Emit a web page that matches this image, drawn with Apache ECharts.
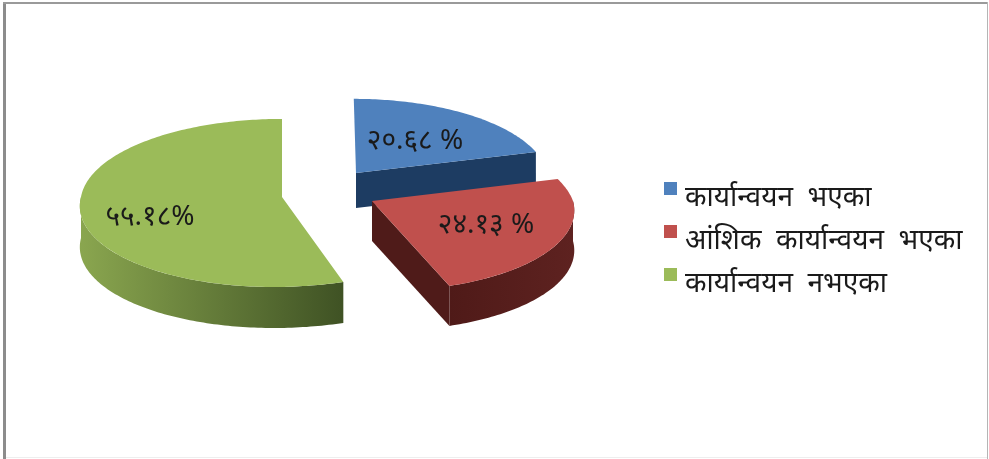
<!DOCTYPE html>
<html><head><meta charset="utf-8">
<style>html,body{margin:0;padding:0;background:#fff}#c{width:989px;height:459px}</style>
<script src="https://cdn.jsdelivr.net/npm/echarts@6/dist/echarts.min.js"></script>
</head><body><div id="c"></div>
<script>
const categories = ['कार्यान्वयन भएका', 'आंशिक कार्यान्वयन भएका', 'कार्यान्वयन नभएका'];
const values = [20.68, 24.13, 55.18];
const valueLabels = ['२०.६८ %', '२४.१३ %', '५५.१८%'];
const topColors = ['#4f81bd', '#c0504d', '#9bbb59'];
const FONT = '"Noto Sans","DejaVu Sans",sans-serif';

// 3D projection of the exploded pie
const layout = [
  {cx: 356, cy: 173, scale: 0.95, depth: 35, lx: 415, ly: 141, skewBack: 0.03, skewFront: 0,
   side: ['#1d3c62', '#1d3c62'], plane: '#1d3c62'},
  {cx: 372, cy: 201, scale: 1.0, depth: 40, lx: 486, ly: 225, skewBack: 0.2, skewFront: 0.1,
   side: ['#4f1a18', '#5e2220'], plane: '#4f1b19'},
  {cx: 282, cy: 197, scale: 1.0, depth: 41, lx: 150, ly: 217, skewBack: 0, skewFront: -0.09,
   side: ['#8aa64f', '#3f5224'], plane: '#3f5224'}
];
const RX = 201, RY = 83.6, K = 0.071;
const total = values.reduce((a, b) => a + b, 0);
function proj(l, deg, dy) {
  const a = deg * Math.PI / 180, t = Math.cos(a), s = l.scale / (1 + K * t);
  const oy = -RY * t * s;
  const skew = oy > 0 ? l.skewFront : l.skewBack;
  return [l.cx + RX * Math.sin(a) * s + skew * oy, l.cy + oy + (dy || 0)];
}
function arc(l, from, to, dy) {
  const pts = [];
  const n = Math.max(2, Math.ceil(Math.abs(to - from)));
  for (let i = 0; i <= n; i++) pts.push(proj(l, from + (to - from) * i / n, dy));
  return pts;
}
function renderSlice(idx) {
  return function (params, api) {
    const v = api.value(0);
    let before = 0;
    for (let i = 0; i < idx; i++) before += values[i];
    const a0 = before / total * 360, a1 = a0 + v / total * 360;
    const l = layout[idx], kids = [], apex = [l.cx, l.cy];
    const apexB = [l.cx, l.cy + l.depth];
    if (a1 < 180) {
      const e = proj(l, a1), eb = proj(l, a1, l.depth);
      kids.push({type: 'polygon', shape: {points: [apex, e, eb, apexB]},
        style: {fill: l.plane}});
    }
    const r0 = Math.max(a0, 90), r1 = Math.min(a1, 270);
    if (r1 > r0) {
      const pts = arc(l, r0, r1, 0).concat(arc(l, r1, r0, l.depth));
      kids.push({type: 'polygon', shape: {points: pts}, style: {
        fill: new echarts.graphic.LinearGradient(0, 0, 1, 0, [
          {offset: 0, color: l.side[0]}, {offset: 1, color: l.side[1]}])}});
    }
    kids.push({type: 'polygon', shape: {points: [apex].concat(arc(l, a0, a1, 0))},
      style: {fill: topColors[idx]}});
    kids.push({type: 'text', x: l.lx, y: l.ly, style: {
      text: valueLabels[idx], font: '28px ' + FONT, fill: '#1a1a1a',
      align: 'center', verticalAlign: 'middle'}});
    return {type: 'group', children: kids};
  };
}
const chart = echarts.init(document.getElementById('c'), null, {renderer: 'canvas'});
chart.setOption({
  animation: false,
  backgroundColor: '#fff',
  legend: {
    orient: 'vertical', left: 659, top: 177, itemWidth: 13, itemHeight: 13,
    itemGap: 12.5, icon: 'rect', data: categories,
    formatter: n => '{a|' + n.replace(/ /g, '  ') + '}',
    textStyle: {
      fontFamily: FONT, fontSize: 28, color: '#1a1a1a',
      rich: {a: {fontFamily: FONT, fontSize: 28, color: '#1a1a1a', padding: [20, 0, 0, 3]}}
    }
  },
  series: categories.map((name, i) => ({
    type: 'custom', name, coordinateSystem: 'none',
    itemStyle: {color: topColors[i]},
    data: [[values[i]]], renderItem: renderSlice(i), silent: true
  })),
  graphic: [
    {type: 'rect', shape: {x: 3, y: 2, width: 3, height: 457}, style: {fill: '#8c8c8c'}, silent: true},
    {type: 'rect', shape: {x: 3, y: 2, width: 985, height: 2}, style: {fill: '#9a9a9a'}, silent: true},
    {type: 'rect', shape: {x: 987, y: 2, width: 1, height: 457}, style: {fill: '#b5b5b5'}, silent: true},
    {type: 'rect', shape: {x: 6, y: 457, width: 981, height: 1}, style: {fill: '#eeeeee'}, silent: true}
  ]
});
</script></body></html>
